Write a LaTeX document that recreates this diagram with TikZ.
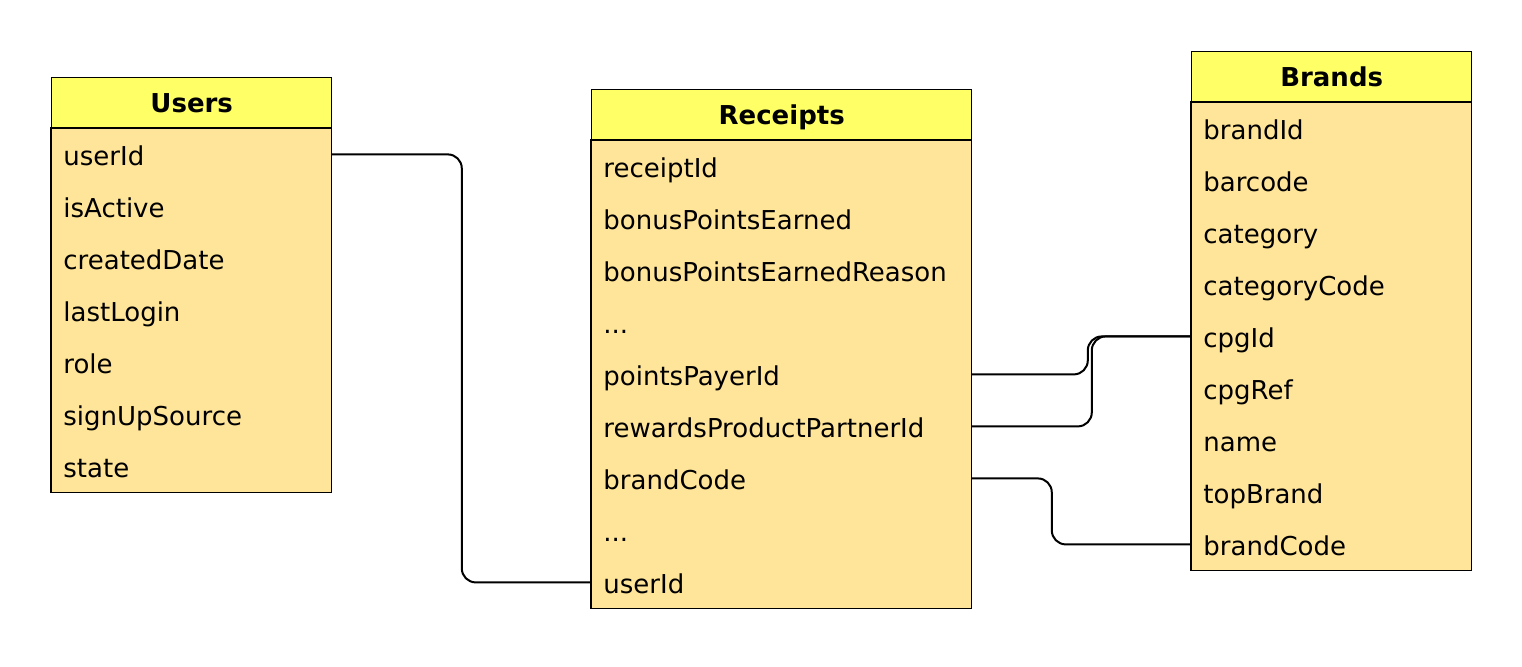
\documentclass[tikz,border=0pt]{standalone}
\usepackage{fontspec}
\setmainfont{DejaVu Sans}
\usepackage{tikz}
\usetikzlibrary{positioning}
\definecolor{headYellow}{HTML}{FFFF66}
\definecolor{rowYellow}{HTML}{FFE599}
\newcommand{\rowdots}{...}

\begin{document}
\begin{tikzpicture}
  [
    x=0.5pt, y=-0.5pt,
    Head/.style={draw=black, fill=headYellow, line width=0.7pt, anchor=north west, inner sep=0pt, minimum width=#1, minimum height=26pt, text height=10.5pt, text depth=1.5pt, font=\fontsize{13}{15}\selectfont\bfseries},
    Row/.style={fill=rowYellow, anchor=north west, inner xsep=6pt, inner ysep=0pt, text width=#1, align=left, minimum height=26pt, text height=12pt, text depth=1pt, font=\fontsize{13}{15}\selectfont},
    Frame/.style={draw=black, line width=0.6pt},
    Link/.style={draw=black, line width=1pt, rounded corners=7pt}
  ]
  \useasboundingbox (0,0) rectangle (1522,666);

  % Users
  \node[Head=140pt] (users) at (51,77) {Users};
  \foreach \field [count=\i] in {userId,isActive,createdDate,lastLogin,role,signUpSource,state}
    \node[Row=128pt] (u\i) at (51,{128+52*(\i-1)}) {\field};
  \draw[Frame] (u1.north west) rectangle (u7.south east);

  % Receipts
  \node[Head=190pt] (receipts) at (591,89) {Receipts};
  \foreach \field [count=\i] in {receiptId,bonusPointsEarned,bonusPointsEarnedReason,\rowdots,pointsPayerId,rewardsProductPartnerId,brandCode,\rowdots,userId}
    \node[Row=178pt] (r\i) at (591,{140+52*(\i-1)}) {\field};
  \draw[Frame] (r1.north west) rectangle (r9.south east);

  % Brands
  \node[Head=140pt] (brands) at (1191,51) {Brands};
  \foreach \field [count=\i] in {brandId,barcode,category,categoryCode,cpgId,cpgRef,name,topBrand,brandCode}
    \node[Row=128pt] (b\i) at (1191,{102+52*(\i-1)}) {\field};
  \draw[Frame] (b1.north west) rectangle (b9.south east);

  % Links
  \draw[Link] (u1.east) -- ++(130,0) |- (r9.west);
  \draw[Link] (r5.east) -- ++(116,0) |- (b5.west);
  \draw[Link] (r6.east) -- ++(120,0) |- (b5.west);
  \draw[Link] (r7.east) -- ++(80,0) |- (b9.west);
\end{tikzpicture}
\end{document}
